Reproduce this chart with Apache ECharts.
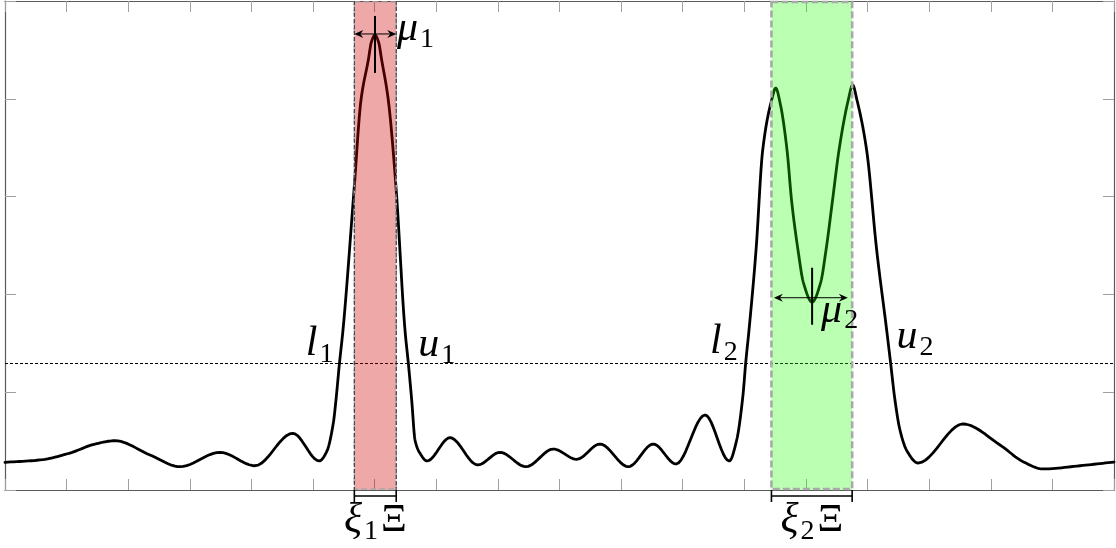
<!DOCTYPE html>
<html>
<head>
<meta charset="utf-8">
<script src="https://cdn.jsdelivr.net/npm/echarts@6/dist/echarts.min.js"></script>
<style>
  html, body { margin: 0; padding: 0; background: #ffffff; }
  #chart { width: 1116px; height: 548px; }
</style>
</head>
<body>
<div id="chart"></div>
<script>
// Response curve: sample positions and values
const curveX = [0, 0.568, 1.055, 1.461, 1.785, 2.353, 2.840, 3.490, 4.058, 4.670,
  5.101, 5.221, 5.329, 5.372, 5.429, 5.486, 5.665, 5.778, 5.897, 5.948,
  6.005, 6.062, 6.114, 6.221, 6.346, 6.492, 6.546, 6.601, 6.655, 6.736,
  6.849, 7.223, 7.672, 8.034, 8.456, 8.899, 9.279, 9.657, 10.117, 10.522,
  10.891, 11.362, 11.756, 11.876, 11.978, 12.022, 12.076, 12.190, 12.298, 12.444,
  12.509, 12.587, 12.693, 12.766, 12.871, 12.960, 13.100, 13.237, 13.326, 13.432,
  13.537, 13.687, 13.758, 13.828, 13.985, 14.148, 14.310, 14.374, 14.445, 14.526,
  14.640, 14.819, 15.549, 16.150, 16.524, 16.848, 17.448, 18.000];
const curveY = [0.283, 0.307, 0.378, 0.470, 0.504, 0.358, 0.238, 0.385, 0.248, 0.580,
  0.297, 0.392, 0.685, 0.920, 1.299, 1.636, 3.067, 3.988, 4.397, 4.583,
  4.652, 4.583, 4.397, 3.988, 3.098, 1.636, 1.299, 0.920, 0.511, 0.375,
  0.297, 0.535, 0.256, 0.385, 0.238, 0.419, 0.314, 0.470, 0.238, 0.470,
  0.266, 0.767, 0.297, 0.511, 0.971, 1.299, 1.636, 2.454, 3.476, 3.988,
  4.110, 3.937, 3.476, 2.965, 2.454, 2.117, 1.922, 2.117, 2.454, 2.965,
  3.476, 3.988, 4.141, 3.988, 3.476, 2.454, 1.636, 1.299, 0.920, 0.613,
  0.399, 0.276, 0.675, 0.460, 0.290, 0.215, 0.248, 0.286];

// Axis ranges
const xMin = 0, xMax = 18, xStep = 1;
const yMin = 0, yMax = 5, yStep = 1;

// Threshold level and where the curve crosses it
const threshold = 1.299;
const lowerCross = [5.429, 12.022];
const upperCross = [6.546, 14.374];

// Windows around each feature
const bandStart = [5.67, 12.44];
const bandEnd = [6.35, 13.75];

// Feature markers (position, level, arrow extent)
const muX = [6.005, 13.100];
const muLevel = [4.663, 1.966];
const muArrowFrom = [5.67, 12.48];
const muArrowTo = [6.35, 13.68];

// Label texts
const lowerNames = [['l', '1'], ['l', '2']];
const upperNames = [['u', '1'], ['u', '2']];
const muNames = [['\u03bc', '1'], ['\u03bc', '2']];
const windowNames = [['\u03be', '1', '\u039e'], ['\u03be', '2', '\u039e']];

// Styling
const bandStyle = [
  { fill: 'rgba(205, 0, 0, 0.34)', border: '#a9a9a9', borderWidth: 1.6, dash: [6, 3], side: '#333333' },
  { fill: 'rgba(25, 255, 0, 0.30)', border: '#a9a9a9', borderWidth: 2.6, dash: [7, 3], side: null }
];
const tickSpan = [[-18, 39], [-30, 27]];
const nudge = {
  lower: [[-6, -6], [-8, -8]],
  upper: [[10, -5], [6, -13]],
  mu: [[22, 8], [9, 26]],
  window: 44
};
// glyph settings per kind: italic variable, subscript digit, upright capital
const glyph = {
  var: { size: 42, family: 'Liberation Serif', italic: true, lead: 0, drop: 0 },
  sub: { size: 28, family: 'Liberation Serif', italic: false, lead: 2, drop: 6 },
  up: { size: 40, family: 'Liberation Serif', italic: false, lead: 3, drop: -1 }
};

function fontOf(g) {
  return (g.italic ? 'italic ' : '') + g.size + 'px "' + g.family + '"';
}
const measureCtx = document.createElement('canvas').getContext('2d');
function widthOf(str, g) {
  measureCtx.font = fontOf(g);
  return measureCtx.measureText(str).width;
}

// parts: [{t, kind}] with kind one of the glyph keys
function mathText(parts, x, baseline, align) {
  const pieces = parts.map(p => {
    const g = glyph[p.kind];
    return { t: p.t, g, w: g.lead + widthOf(p.t, g) };
  });
  const total = pieces.reduce((s, p) => s + p.w, 0);
  let cx = align === 'right' ? x - total : align === 'center' ? x - total / 2 : x;
  const els = [];
  pieces.forEach(p => {
    const g = p.g;
    els.push({
      type: 'text',
      x: cx + g.lead,
      y: baseline + g.drop - 0.31 * g.size,
      style: {
        text: p.t,
        fontSize: g.size,
        fontFamily: g.family,
        fontStyle: g.italic ? 'italic' : 'normal',
        fill: '#000000',
        align: 'left',
        verticalAlign: 'middle'
      }
    });
    cx += p.w;
  });
  return els;
}

function arrowHead(tipX, y, dir) {
  // dir = 1 points right, -1 points left
  return {
    type: 'polygon',
    shape: { points: [[tipX, y], [tipX - dir * 9, y - 4], [tipX - dir * 6, y], [tipX - dir * 9, y + 4]] },
    style: { fill: '#000000' }
  };
}

// Monotone cubic (Fritsch-Carlson) through the projected samples
function renderCurve(params, api) {
  const p = curveX.map((x, k) => api.coord([x, curveY[k]]));
  const n = p.length;
  const d = [];
  for (let k = 0; k < n - 1; k++) d.push((p[k + 1][1] - p[k][1]) / (p[k + 1][0] - p[k][0]));
  const m = new Array(n);
  m[0] = d[0];
  m[n - 1] = d[n - 2];
  for (let k = 1; k < n - 1; k++) {
    if (d[k - 1] * d[k] <= 0) { m[k] = 0; continue; }
    const h0 = p[k][0] - p[k - 1][0], h1 = p[k + 1][0] - p[k][0];
    const w1 = 2 * h1 + h0, w2 = h1 + 2 * h0;
    m[k] = (w1 + w2) / (w1 / d[k - 1] + w2 / d[k]);
  }
  const pts = [];
  const steps = 12;
  for (let k = 0; k < n - 1; k++) {
    const x0 = p[k][0], y0 = p[k][1], x1 = p[k + 1][0], y1 = p[k + 1][1];
    const h = x1 - x0;
    for (let s = 0; s < steps; s++) {
      const t = s / steps;
      const t2 = t * t, t3 = t2 * t;
      const h00 = 2 * t3 - 3 * t2 + 1, h10 = t3 - 2 * t2 + t, h01 = -2 * t3 + 3 * t2, h11 = t3 - t2;
      pts.push([x0 + t * h, h00 * y0 + h10 * h * m[k] + h01 * y1 + h11 * h * m[k + 1]]);
    }
  }
  pts.push(p[n - 1]);
  return {
    type: 'polyline',
    shape: { points: pts },
    style: { stroke: '#000000', lineWidth: 2.8, fill: 'none', lineJoin: 'round', lineCap: 'round' }
  };
}

function renderWindow(params, api) {
  const i = params.dataIndex;
  const tl = api.coord([bandStart[i], yMax]);
  const br = api.coord([bandEnd[i], yMin]);
  const x0 = tl[0], x1 = br[0], yTop = tl[1], yBot = br[1];
  const bs = bandStyle[i];
  const children = [];

  children.push({
    type: 'rect',
    shape: { x: x0, y: yTop, width: x1 - x0, height: yBot - yTop },
    style: { fill: bs.fill }
  });
  children.push({
    type: 'rect',
    shape: { x: x0, y: yTop + 1, width: x1 - x0, height: yBot - yTop - 2 },
    style: { fill: 'none', stroke: bs.border, lineWidth: bs.borderWidth, lineDash: bs.dash }
  });
  if (bs.side) {
    [x0, x1].forEach(sx => children.push({
      type: 'line',
      shape: { x1: sx, y1: yTop, x2: sx, y2: yBot },
      style: { stroke: bs.side, lineWidth: 1, lineDash: [4, 2] }
    }));
  }

  // Feature marker: double arrow and vertical tick
  const mp = api.coord([muX[i], muLevel[i]]);
  const af = api.coord([muArrowFrom[i], muLevel[i]]);
  const at = api.coord([muArrowTo[i], muLevel[i]]);
  children.push({
    type: 'line',
    shape: { x1: af[0] + 4, y1: mp[1], x2: at[0] - 4, y2: mp[1] },
    style: { stroke: '#000000', lineWidth: 1 }
  });
  children.push(arrowHead(af[0], mp[1], -1));
  children.push(arrowHead(at[0], mp[1], 1));
  children.push({
    type: 'line',
    shape: { x1: mp[0], y1: mp[1] + tickSpan[i][0], x2: mp[0], y2: mp[1] + tickSpan[i][1] },
    style: { stroke: '#000000', lineWidth: 2 }
  });
  children.push(...mathText(
    [{ t: muNames[i][0], kind: 'var' }, { t: muNames[i][1], kind: 'sub' }],
    mp[0] + nudge.mu[i][0], mp[1] + nudge.mu[i][1], 'left'));

  // Threshold crossing labels
  const lp = api.coord([lowerCross[i], threshold]);
  children.push(...mathText(
    [{ t: lowerNames[i][0], kind: 'var' }, { t: lowerNames[i][1], kind: 'sub' }],
    lp[0] + nudge.lower[i][0], lp[1] + nudge.lower[i][1], 'right'));
  const up = api.coord([upperCross[i], threshold]);
  children.push(...mathText(
    [{ t: upperNames[i][0], kind: 'var' }, { t: upperNames[i][1], kind: 'sub' }],
    up[0] + nudge.upper[i][0], up[1] + nudge.upper[i][1], 'left'));

  // Width bracket under the axis
  [x0, x1].forEach(bx => children.push({
    type: 'line',
    shape: { x1: bx, y1: yBot, x2: bx, y2: yBot + 12 },
    style: { stroke: '#000000', lineWidth: 1.6 }
  }));
  children.push({
    type: 'line',
    shape: { x1: x0, y1: yBot + 6, x2: x1, y2: yBot + 6 },
    style: { stroke: '#000000', lineWidth: 1.6 }
  });
  children.push(...mathText(
    [{ t: windowNames[i][0], kind: 'var' }, { t: windowNames[i][1], kind: 'sub' }, { t: windowNames[i][2], kind: 'up' }],
    (x0 + x1) / 2, yBot + nudge.window, 'center'));

  return { type: 'group', children };
}

const axisCommon = {
  type: 'value',
  axisLabel: { show: false },
  splitLine: { show: false },
  axisLine: { show: true, onZero: false, lineStyle: { color: '#5a5a5a', width: 1.2 } },
  axisTick: { show: true, inside: true, length: 11, lineStyle: { color: '#a0a0a0', width: 1 } }
};

const chart = echarts.init(document.getElementById('chart'), null, { renderer: 'canvas' });
chart.setOption({
  animation: false,
  backgroundColor: '#ffffff',
  grid: { left: 5, right: 2, top: 1, bottom: 58, containLabel: false, outerBoundsMode: 'none' },
  xAxis: [
    Object.assign({}, axisCommon, { position: 'bottom', min: xMin, max: xMax, interval: xStep }),
    Object.assign({}, axisCommon, { position: 'top', min: xMin, max: xMax, interval: xStep })
  ],
  yAxis: [
    Object.assign({}, axisCommon, { position: 'left', min: yMin, max: yMax, interval: yStep }),
    Object.assign({}, axisCommon, { position: 'right', min: yMin, max: yMax, interval: yStep })
  ],
  series: [
    {
      // threshold level
      type: 'line',
      data: [],
      silent: true,
      markLine: {
        silent: true,
        symbol: 'none',
        label: { show: false },
        lineStyle: { color: '#000000', width: 1.2, type: [3, 2] },
        data: [{ yAxis: threshold }]
      }
    },
    {
      type: 'custom',
      coordinateSystem: 'cartesian2d',
      silent: true,
      z: 2,
      data: [[curveX[0], curveY[0]]],
      encode: { x: 0, y: 1 },
      renderItem: renderCurve
    },
    {
      type: 'custom',
      coordinateSystem: 'cartesian2d',
      clip: false,
      silent: true,
      z: 5,
      data: bandStart.map((s, i) => [s, yMin]),
      encode: { x: 0, y: 1 },
      renderItem: renderWindow
    }
  ]
});
</script>
</body>
</html>
